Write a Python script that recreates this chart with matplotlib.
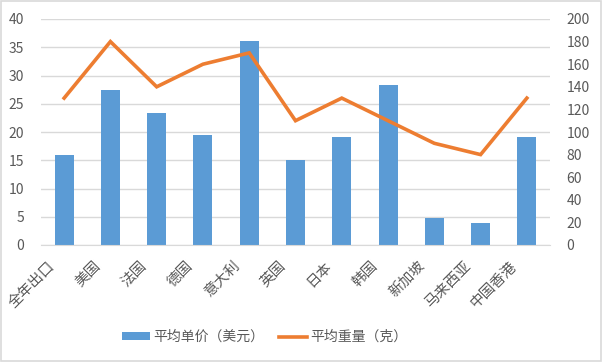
import matplotlib
matplotlib.use("Agg")
import matplotlib.pyplot as plt
import matplotlib.transforms as mtransforms
from matplotlib.patches import Rectangle
import numpy as np

plt.rcParams["font.family"] = ["Noto Sans CJK SC", "DejaVu Sans"]

categories = ["全年出口", "美国", "法国", "德国", "意大利", "英国",
              "日本", "韩国", "新加坡", "马来西亚", "中国香港"]
avg_price = [16.0, 27.4, 23.3, 19.4, 36.1, 15.0, 19.1, 28.4, 4.7, 3.9, 19.1]
avg_weight = [130, 180, 140, 160, 170, 110, 130, 110, 90, 80, 130]

BLUE = "#5B9BD5"
ORANGE = "#ED7D31"
GRID = "#D9D9D9"
TEXT = "#595959"

fig = plt.figure(figsize=(6.02, 3.62), dpi=100)
ax = fig.add_axes([41 / 602, 1 - 245 / 362, 509 / 602, 226 / 362])
ax2 = ax.twinx()

x = np.arange(len(categories))
ax.bar(x, avg_price, width=0.41, color=BLUE, zorder=2, label="平均单价（美元）")
ax2.plot(x, avg_weight, color=ORANGE, lw=2.6, zorder=3, label="平均重量（克）",
         solid_joinstyle="miter")

ax.set_xlim(-0.5, len(categories) - 0.5)
ax.set_ylim(0, 40)
ax.set_yticks(range(0, 41, 5))
ax2.set_ylim(0, 200)
ax2.set_yticks(range(0, 201, 20))

ax.yaxis.grid(True, color=GRID, lw=1, zorder=0)
ax.set_axisbelow(True)
for a in (ax, ax2):
    for s in a.spines.values():
        s.set_visible(False)
    a.tick_params(length=0, colors=TEXT, labelsize=10)
ax.spines["bottom"].set_visible(True)
ax.spines["bottom"].set_color(GRID)
ax.tick_params(axis="y", pad=12)
ax2.tick_params(axis="y", pad=12)

ax.set_xticks(x)
ax.set_xticklabels(categories, rotation=45, ha="right", va="center",
                   rotation_mode="anchor", fontsize=10.5, color=TEXT)
ax.tick_params(axis="x", pad=12)
shift = mtransforms.ScaledTranslation(-12 / 100, -2 / 100, fig.dpi_scale_trans)
for lbl in ax.get_xticklabels():
    lbl.set_transform(lbl.get_transform() + shift)

h1, l1 = ax.get_legend_handles_labels()
h2, l2 = ax2.get_legend_handles_labels()
fig.legend(h1 + h2, l1 + l2, loc="center", bbox_to_anchor=(0.44, 0.069),
           ncol=2, frameon=False, fontsize=10, labelcolor=TEXT,
           handlelength=2.0, handleheight=0.5, columnspacing=1.1, handletextpad=0.25)

fig.patches.append(Rectangle((0.002, 0.003), 0.996, 0.994, transform=fig.transFigure,
                             fill=False, edgecolor=GRID, lw=1.2))

fig.savefig("out.png", dpi=100)
